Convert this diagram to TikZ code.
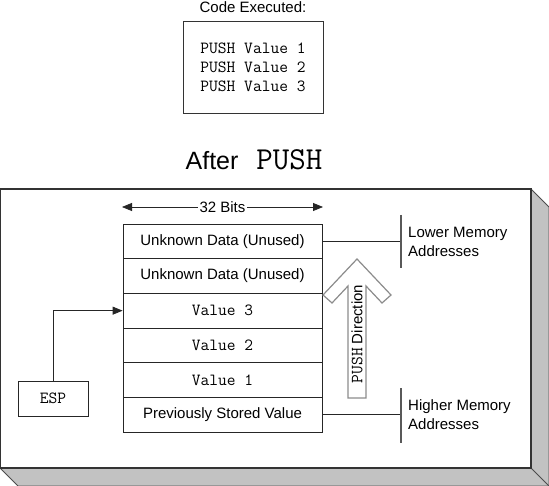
\documentclass[tikz,border=0pt]{standalone}
\usepackage{fontspec}
\setmainfont{Liberation Sans}
\usetikzlibrary{arrows.meta}
\newcommand{\monotext}{\fontsize{17}{19}\selectfont\ttfamily}
\begin{document}
\begin{tikzpicture}[x=1pt,y=-1pt,
  txt/.style={font=\fontsize{15}{19}\selectfont, inner sep=0pt},
  cell/.style={draw=black!85, line width=0.8pt, minimum width=199pt, minimum height=34.67pt, inner sep=0pt, font=\fontsize{15}{19}\selectfont},
  mcell/.style={cell, font=\monotext},
  bar/.style={draw=black!65, line width=1.2pt},
  conn/.style={draw=black!85, line width=0.8pt},
  tip/.style={-{Triangle[length=10pt,width=8pt]}}]
\useasboundingbox (0,0) rectangle (549,486);
% code box
\node[txt, anchor=base] (codet) at (253,12.5) {Code Executed:};
\node[draw=black!80, line width=0.9pt, minimum width=140pt, minimum height=92pt, inner sep=0pt,
      align=left, font=\monotext] (code) at (253,67)
      {PUSH Value 1\\PUSH Value 2\\PUSH Value 3};
% title
\node[anchor=base, inner sep=0pt] (title) at (254,170)
  {\fontsize{25}{28}\selectfont After\hspace{18pt}{\fontsize{32}{33}\selectfont\ttfamily PUSH}};
% frame with 3D depth
\fill[black!24] (531,189) -- (549,207) -- (549,486) -- (18,486) -- (0,468) -- cycle;
\draw[black!70, line width=1pt] (531,189) -- (549,207) -- (549,486) -- (18,486) -- (0,468);
\draw[black!70, line width=1pt] (531,468) -- (549,486);
\draw[fill=white, draw=black!80, line width=1.4pt] (0,189) rectangle (531,468);
% 32 bits
\coordinate (bl) at (122,207);
\coordinate (br) at (323,207);
\draw[conn, tip] (222.5,207) -- (bl);
\draw[conn, tip] (222.5,207) -- (br);
\node[txt, fill=white, inner xsep=2pt] (bits) at (222.5,207) {32 Bits};
% stack
\node[cell] (r1) at (222.5,241.33) {Unknown Data (Unused)};
\node[cell] (r2) at (222.5,276) {Unknown Data (Unused)};
\node[mcell] (r3) at (222.5,310.67) {Value 3};
\node[mcell] (r4) at (222.5,345.33) {Value 2};
\node[mcell] (r5) at (222.5,380) {Value 1};
\node[cell] (r6) at (222.5,414.67) {Previously Stored Value};
% ESP
\node[draw=black!85, line width=0.8pt, minimum width=70pt, minimum height=35pt, inner sep=0pt,
      font=\monotext] (esp) at (53,398.5) {ESP};
\draw[conn, tip] (esp.north) |- (r3.west);
% memory labels
\coordinate (lb) at (401,241.33);
\coordinate (lbt) at (401,215);
\coordinate (lbb) at (401,268);
\draw[conn] (r1.east) -- (lb);
\draw[bar] (lbt) -- (lbb);
\node[txt, anchor=west, align=left] (lower) at (408,241.5) {Lower Memory\\Addresses};
\coordinate (hb) at (401,414.67);
\coordinate (hbt) at (401,388);
\coordinate (hbb) at (401,443);
\draw[conn] (r6.east) -- (hb);
\draw[bar] (hbt) -- (hbb);
\node[txt, anchor=west, align=left] (higher) at (408,415) {Higher Memory\\Addresses};
% push direction arrow
\draw[fill=white, draw=black!45, line width=1.2pt, line join=miter]
  (348,398) -- (348,286) -- (332,303) -- (323,295) -- (357,259) -- (391,295) -- (382,303) -- (366,286) -- (366,398) -- cycle;
\node[txt, rotate=90] (pushdir) at (357,334) {{\monotext PUSH} Direction};
\end{tikzpicture}
\end{document}
